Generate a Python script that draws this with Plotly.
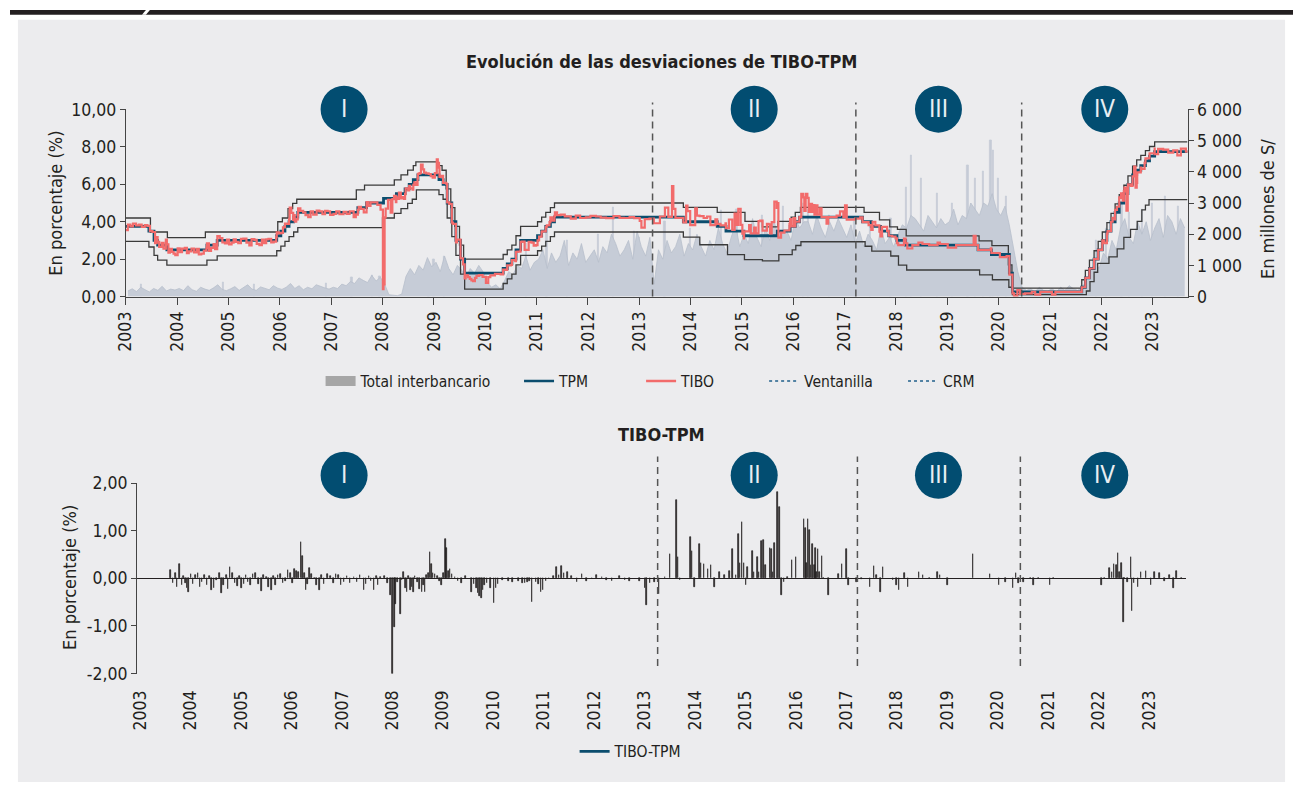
from bisect import bisect_right

import plotly.graph_objects as go

FONT = "Liberation Sans Narrow, Arial Narrow, DejaVu Sans Condensed, sans-serif"
INK = "#231F20"
FW, FH = 1293, 794
AREA = "#C6CCD7"


def px(x):
    return x / FW


def py(y):
    return 1 - y / FH


# ---- data (decimal years) ----
years = list(range(2003, 2024))

# Total interbancario, monthly level, millones de S/ (Jan 2003 .. Aug 2023)
interbank_vol = [
    180, 250, 160, 300, 220, 150, 260, 200, 330, 180, 240, 210,
    260, 190, 350, 220, 170, 300, 240, 200, 280, 380, 230, 190,
    250, 320, 200, 280, 380, 240, 200, 310, 260, 220, 350, 270,
    230, 300, 420, 260, 350, 220, 300, 250, 380, 320, 280, 240,
    300, 260, 400, 350, 480, 420, 600, 520, 450, 680, 500, 620,
    400, 60, 40, 30, 80, 650, 900, 700, 1000, 850, 1250, 950,
    1100, 800, 1300, 900, 700, 1000, 850, 600, 900, 750, 1000, 800,
    450, 300, 380, 250, 500, 800, 700, 1000, 900, 1300, 850, 1100,
    1200, 1500, 900, 1400, 1100, 1300, 1800, 1000, 1400, 1200, 1700, 1100,
    1300, 1500, 1100, 1600, 1400, 2000, 1700, 1300, 1500, 1800, 1200, 2100,
    1600, 1300, 1900, 400, 1500, 1200, 1800, 1400, 1600, 2000, 1300, 1700,
    1500, 2000, 1600, 1300, 1800, 1500, 2200, 1700, 1400, 1900, 2300, 1600,
    2000, 1700, 2500, 1900, 1600, 2200, 1800, 2400, 2000, 2100, 2100, 1800,
    2500, 2200, 2400, 2400, 2000, 2600, 2200, 1900, 2400, 2100, 2500, 2200,
    1900, 2300, 1700, 2100, 1600, 2000, 1800, 1500, 2200, 1700, 1900, 1600,
    2000, 2300, 2200, 2600, 2500, 2300, 2100, 2600, 2400, 2200, 2500, 2300,
    2400, 2800, 2300, 2600, 2500, 3000, 2800, 2600, 3000, 2900, 3300, 2800,
    2600, 2900, 2300, 1500, 800, 300, 200, 250, 150, 300, 200, 180,
    250, 150, 300, 200, 350, 250, 200, 300, 500, 800, 1100, 900,
    1400, 1200, 1800, 1500, 2200, 2500, 1900, 1700, 2400, 2000, 2400, 1800,
    2200, 2500, 1900, 2600, 2400, 2000, 2500, 2200,
]
# Total interbancario, single-day peaks
vol_peak_years = [2003.3, 2004.9, 2005.5, 2006.9, 2007.4, 2007.8, 2007.95, 2008.9, 2009.0, 2009.2,
                  2010.8, 2011.2, 2011.6, 2012.2, 2012.5, 2012.9, 2013.0, 2013.5, 2014.0, 2014.6,
                  2014.9, 2015.4, 2015.8, 2016.2, 2016.3, 2016.7, 2017.2, 2017.5, 2017.9, 2018.2,
                  2018.3, 2018.5, 2018.8, 2019.1, 2019.4, 2019.55, 2019.7, 2019.85, 2019.9, 2020.0,
                  2020.15, 2021.9, 2022.1, 2022.4, 2022.55, 2022.8, 2023.0, 2023.25, 2023.5]
vol_peak_vals = [400, 450, 380, 420, 600, 690, 650, 1100, 1200, 1300,
                 1700, 2250, 1800, 2000, 2870, 2100, 1900, 2400, 2200, 2750,
                 2800, 2600, 2900, 3000, 2800, 2600, 2400, 2300, 2500, 3500,
                 4530, 3800, 3300, 3000, 4200, 3800, 4000, 5000, 4700, 3800,
                 3200, 1800, 2200, 3000, 2700, 2800, 3000, 3200, 2900]

tpm_years = [2003.0, 2003.45, 2003.55, 2003.62, 2003.8, 2004.58, 2004.78, 2005.94, 2006.02, 2006.1,
             2006.18, 2006.27, 2006.35, 2007.52, 2007.69, 2008.02, 2008.27, 2008.44, 2008.52, 2008.6,
             2008.69, 2009.1, 2009.18, 2009.26, 2009.35, 2009.43, 2009.52, 2009.6, 2010.35, 2010.43,
             2010.52, 2010.6, 2010.69, 2011.02, 2011.1, 2011.18, 2011.27, 2011.35, 2013.86, 2014.52,
             2014.69, 2015.04, 2015.69, 2015.94, 2016.04, 2016.12, 2017.35, 2017.52, 2017.7, 2017.86,
             2018.02, 2018.19, 2019.6, 2019.86, 2020.21, 2020.27, 2021.62, 2021.69, 2021.77, 2021.86,
             2021.94, 2022.02, 2022.11, 2022.19, 2022.27, 2022.35, 2022.44, 2022.52, 2022.61, 2022.69,
             2022.77, 2022.86, 2022.94, 2023.04, 2023.68]
tpm_vals = [3.75, 3.5, 3.0, 2.75, 2.5, 2.75, 3.0, 3.25, 3.5, 3.75,
            4.0, 4.25, 4.5, 4.75, 5.0, 5.25, 5.5, 5.75, 6.0, 6.25,
            6.5, 6.25, 6.0, 5.0, 4.0, 3.0, 2.0, 1.25, 1.5, 1.75,
            2.0, 2.5, 3.0, 3.25, 3.5, 3.75, 4.0, 4.25, 4.0, 3.75,
            3.5, 3.25, 3.5, 3.75, 4.0, 4.25, 4.0, 3.75, 3.5, 3.25,
            3.0, 2.75, 2.5, 2.25, 1.25, 0.25, 0.5, 1.0, 1.5, 2.0,
            2.5, 3.0, 3.5, 4.0, 4.5, 5.0, 5.5, 6.0, 6.5, 6.75,
            7.0, 7.25, 7.5, 7.75, 7.75]

ven_years = [2003.0, 2003.48, 2003.81, 2004.55, 2005.96, 2006.05, 2006.16, 2006.25, 2006.33, 2007.49,
             2007.65, 2008.23, 2008.36, 2008.49, 2008.6, 2008.65, 2009.07, 2009.16, 2009.24, 2009.33,
             2009.41, 2009.5, 2009.58, 2010.35, 2010.43, 2010.52, 2010.6, 2010.69, 2011.02, 2011.1,
             2011.18, 2011.27, 2011.35, 2013.86, 2014.52, 2015.06, 2015.4, 2015.7, 2015.96, 2016.04,
             2016.14, 2017.38, 2017.68, 2017.88, 2018.03, 2018.2, 2019.62, 2019.87, 2020.19, 2020.26,
             2021.62, 2021.69, 2021.77, 2021.86, 2021.94, 2022.02, 2022.11, 2022.19, 2022.27, 2022.35,
             2022.44, 2022.52, 2022.61, 2022.69, 2022.77, 2022.86, 2022.94, 2023.04, 2023.68]
ven_vals = [4.2, 3.45, 3.15, 3.45, 4.0, 4.2, 4.7, 4.98, 5.2, 5.7,
            5.96, 6.24, 6.5, 6.76, 7.0, 7.2, 7.0, 6.75, 5.75, 4.75,
            3.75, 2.75, 2.0, 2.25, 2.5, 2.75, 3.25, 3.75, 4.0, 4.25,
            4.5, 4.75, 5.0, 4.77, 4.5, 4.02, 3.73, 4.02, 4.25, 4.5,
            4.77, 4.5, 4.1, 3.73, 3.59, 3.24, 2.98, 2.72, 1.7, 0.45,
            0.9, 1.4, 1.95, 2.45, 2.95, 3.45, 3.95, 4.45, 4.95, 5.45,
            5.95, 6.45, 6.97, 7.3, 7.55, 7.8, 8.02, 8.27, 8.27]

crm_years = [2003.0, 2003.45, 2003.55, 2003.62, 2003.8, 2004.58, 2004.78, 2005.94, 2006.02, 2006.1,
             2006.18, 2006.27, 2006.35, 2008.0, 2008.23, 2008.36, 2008.49, 2008.58, 2008.66, 2009.1,
             2009.18, 2009.26, 2009.35, 2009.43, 2009.52, 2009.6, 2010.35, 2010.43, 2010.52, 2010.6,
             2010.69, 2011.02, 2011.1, 2011.18, 2011.27, 2011.35, 2013.86, 2014.18, 2014.72, 2015.05,
             2015.4, 2015.72, 2015.98, 2016.05, 2016.15, 2017.4, 2017.53, 2017.9, 2018.05, 2018.21,
             2019.63, 2019.88, 2020.2, 2020.27, 2021.71, 2021.78, 2021.86, 2021.93, 2022.15, 2022.31,
             2022.44, 2022.57, 2022.7, 2022.79, 2022.86, 2022.93, 2023.68]
crm_vals = [2.95, 2.65, 2.2, 1.95, 1.68, 1.95, 2.18, 2.45, 2.7, 2.95,
            3.2, 3.45, 3.68, 4.2, 4.45, 4.7, 4.98, 5.2, 5.7, 5.45,
            5.2, 4.2, 3.2, 2.2, 1.2, 0.4, 0.7, 0.95, 1.2, 1.7,
            2.2, 2.45, 2.7, 2.95, 3.2, 3.45, 3.18, 2.77, 2.24, 1.98,
            1.91, 2.24, 2.5, 2.73, 2.93, 2.69, 2.43, 2.17, 1.68, 1.42,
            1.16, 0.9, 0.5, 0.1, 0.3, 0.8, 1.3, 1.77, 2.12, 2.55,
            3.16, 3.59, 4.02, 4.63, 4.89, 5.18, 5.18]

# TIBO before the TIBO-TPM series starts
tibo_early_years = [2003.0, 2003.04, 2003.09, 2003.14, 2003.2, 2003.26, 2003.31, 2003.37, 2003.42, 2003.47,
                    2003.52, 2003.57]
tibo_early_vals = [3.55, 3.85, 3.75, 3.9, 3.8, 3.85, 3.72, 3.82, 3.78, 3.5, 3.45, 2.85]

# TIBO - TPM (percentage points): spikes
spread_years = [
    2003.603, 2003.734, 2003.78, 2003.898, 2003.964, 2004.095, 2004.226, 2004.422, 2004.52, 2004.619,
    2004.783, 2004.881, 2005.012, 2005.143, 2005.242, 2005.406, 2005.504, 2005.602, 2005.734, 2005.832,
    2005.93,
    2006.061, 2006.14, 2006.192, 2006.225, 2006.291, 2006.356, 2006.455, 2006.553, 2006.717, 2006.881,
    2007.045, 2007.241, 2007.438, 2007.536, 2007.635, 2007.766, 2007.962,
    2008.008, 2008.041, 2008.061, 2008.107, 2008.159, 2008.192, 2008.225, 2008.29, 2008.356, 2008.421,
    2008.5, 2008.585, 2008.651, 2008.683, 2008.749, 2008.782, 2008.847, 2008.978,
    2009.057, 2009.077, 2009.142, 2009.24, 2009.372, 2009.568, 2009.667, 2009.732, 2009.765, 2009.83,
    2010.014, 2010.06, 2010.19, 2010.388, 2010.585, 2010.683, 2010.768, 2010.847, 2010.945, 2010.991,
    2011.109, 2011.253, 2011.305, 2011.358, 2011.469, 2011.666, 2011.764, 2011.961,
    2012.158, 2012.354, 2012.616, 2012.813,
    2013.01, 2013.043, 2013.108, 2013.285, 2013.403, 2013.501, 2013.567, 2013.639, 2013.665, 2013.705,
    2013.914, 2013.94, 2013.993,
    2014.091, 2014.124, 2014.176, 2014.255, 2014.321, 2014.386, 2014.484, 2014.583, 2014.681, 2014.747,
    2014.812, 2014.858, 2014.891, 2014.93, 2014.976,
    2015.009, 2015.042, 2015.14, 2015.173, 2015.239, 2015.271, 2015.324, 2015.357, 2015.403, 2015.488,
    2015.52, 2015.547, 2015.58, 2015.632, 2015.678, 2015.711, 2015.763, 2015.829, 2015.927, 2015.96,
    2016.006, 2016.039, 2016.157, 2016.19, 2016.216, 2016.242, 2016.275, 2016.301, 2016.334, 2016.367,
    2016.386, 2016.413, 2016.439, 2016.472, 2016.518, 2016.551, 2016.649, 2016.681, 2016.845, 2016.911,
    2016.976,
    2017.009, 2017.042, 2017.205, 2017.304, 2017.468, 2017.547, 2017.599, 2017.678, 2017.73, 2017.829,
    2017.927, 2017.993,
    2018.045, 2018.157, 2018.222, 2018.32, 2018.438, 2018.517, 2018.648, 2018.812, 2018.858,
    2019.009, 2019.173, 2019.514, 2019.553, 2019.848,
    2020.025, 2020.156, 2020.3, 2020.366, 2020.418, 2020.516, 2020.647, 2020.713, 2020.811,
    2021.04, 2021.106,
    2022.057, 2022.122, 2022.221, 2022.267, 2022.306, 2022.352, 2022.385, 2022.418, 2022.451, 2022.49,
    2022.516, 2022.569, 2022.641, 2022.667, 2022.7, 2022.779, 2022.844, 2022.943,
    2023.041, 2023.107, 2023.205, 2023.304, 2023.402, 2023.481, 2023.55, 2023.648, 2023.731,
]
spread_vals = [
    0.18, -0.19, 0.29, -0.11, -0.28, 0.06, -0.08, -0.25, -0.04, -0.31,
    0.23, -0.11, -0.21, -0.08, 0.08, -0.27, 0.03, -0.25, 0.06, -0.11,
    0.18,
    0.2, 0.13, 0.76, 0.47, -0.25, 0.21, 0.0, -0.25, 0.09, 0.08,
    -0.08, 0.03, -0.25, 0.05, -0.25, 0.03, -0.35,
    -4.6, -1.02, -0.55, -0.08, -0.76, -0.04, 0.13, -0.28, -0.25, -0.28,
    -0.08, -0.28, -0.28, 0.06, 0.55, 0.3, 0.08, -0.14,
    0.83, 0.64, 0.2, 0.03, -0.11, -0.28, -0.21, -0.38, -0.42, -0.14,
    -0.52, -0.21, -0.04, -0.08, -0.11, -0.08, -0.5, -0.08, -0.28, -0.25,
    -0.02, 0.23, 0.06, 0.25, 0.13, -0.08, 0.08, -0.02,
    0.03, -0.06, -0.04, 0.0,
    -0.21, -0.57, -0.11, -0.33, 0.03, 0.5, 0.01, 1.65, 0.44, -0.04,
    0.86, 0.57, -0.18,
    0.71, 0.33, 0.3, 0.2, 0.28, -0.18, 0.13, 0.06, 0.16, 0.62,
    0.06, 0.93, 0.33, 1.19, 0.33,
    -0.14, 0.23, 0.57, 0.13, 0.44, 0.13, 0.78, 0.81, 0.27, 0.64,
    0.61, 0.13, 0.73, 1.82, 1.49, -0.35, -0.08, 0.03, 0.39, 0.0,
    0.45, 0.0, 1.24, 1.05, 0.33, 1.24, 1.02, 0.27, 0.71, 0.27,
    0.64, 0.13, 0.62, 0.13, 0.47, 0.0, -0.35, 0.0, 0.08, 0.3,
    0.0,
    0.62, -0.14, -0.08, -0.02, -0.18, 0.25, 0.06, -0.28, 0.23, 0.0,
    -0.04, -0.14,
    -0.25, 0.1, -0.18, 0.0, 0.14, 0.06, 0.0, 0.13, 0.06,
    -0.14, 0.0, 0.5, 0.0, 0.08,
    -0.14, -0.08, -0.21, 0.1, -0.11, -0.08, 0.01, -0.14, 0.0,
    -0.14, 0.0,
    -0.14, 0.0, 0.21, 0.13, 0.3, 0.27, 0.52, 0.13, 0.33, -0.91,
    0.0, -0.08, 0.45, -0.68, -0.11, -0.18, 0.14, 0.16,
    -0.14, 0.14, 0.1, -0.06, 0.06, -0.21, 0.16, 0.0, 0.0,
]

# TIBO - TPM: small day-to-day noise between the spikes (2003-2013)
noise_years = [
    2003.65, 2003.70, 2003.83, 2003.86, 2003.93, 2004.01, 2004.05, 2004.15, 2004.19, 2004.28,
    2004.33, 2004.38, 2004.47, 2004.57, 2004.66, 2004.71, 2004.74, 2004.83, 2004.93, 2004.97,
    2005.06, 2005.1, 2005.19, 2005.29, 2005.35, 2005.45, 2005.55, 2005.65, 2005.69, 2005.78,
    2005.88, 2005.98, 2006.02, 2006.1, 2006.26, 2006.32, 2006.4, 2006.5, 2006.6, 2006.65,
    2006.77, 2006.83, 2006.93, 2006.98, 2007.1, 2007.16, 2007.3, 2007.36, 2007.48, 2007.58,
    2007.69, 2007.72, 2007.85, 2007.9, 2008.26, 2008.32, 2008.39, 2008.45, 2008.54, 2008.62,
    2008.72, 2008.81, 2008.9, 2008.94, 2009.02, 2009.11, 2009.18, 2009.3, 2009.45, 2009.62,
    2009.7, 2009.8, 2009.88, 2009.95, 2010.1, 2010.3, 2010.5, 2010.63, 2010.72, 2010.9,
    2011.05, 2011.2, 2011.4, 2011.55, 2011.85, 2012.05, 2012.25, 2012.5, 2012.7, 2012.9, 2013.2,
]
noise_vals = [
    -0.1, 0.12, -0.15, 0.05, -0.2, 0.08, -0.12, 0.1, -0.18, 0.07,
    -0.14, 0.05, -0.2, 0.1, -0.15, 0.06, -0.22, 0.12, -0.16, 0.04,
    -0.12, 0.06, -0.15, 0.1, -0.12, 0.07, -0.18, 0.05, -0.14, 0.09,
    -0.06, 0.12, -0.1, 0.15, 0.1, -0.12, 0.08, -0.15, 0.06, -0.12,
    0.05, -0.1, 0.06, -0.14, 0.05, -0.1, -0.08, 0.06, -0.12, -0.06,
    0.05, -0.15, 0.04, -0.1, -0.2, 0.05, -0.18, 0.04, -0.22, -0.15,
    0.1, 0.12, 0.05, -0.06, 0.1, 0.15, 0.08, -0.05, 0.04, -0.12,
    -0.3, -0.25, -0.1, -0.2, -0.12, -0.06, -0.05, -0.1, -0.06, -0.12,
    -0.05, 0.05, 0.1, 0.04, -0.05, 0.06, -0.03, 0.05, -0.05, -0.06, -0.08,
]

period_breaks = [2013.26, 2017.22, 2020.45]
period_labels = ["I", "II", "III", "IV"]


def step_at(xs, ys, t):
    return ys[bisect_right(xs, t) - 1]


diff = dict(zip(noise_years, noise_vals))
diff.update(zip(spread_years, spread_vals))
diff_years = sorted(diff)
diff_vals = [diff[t] for t in diff_years]

# TIBO = TPM + (TIBO - TPM)
tibo_grid = sorted(set(diff_years) | {t for t in tpm_years if t > diff_years[0]})
tibo_x = tibo_early_years + tibo_grid
tibo_y = tibo_early_vals + [round(step_at(tpm_years, tpm_vals, t) + step_at(diff_years, diff_vals, t), 3)
                            for t in tibo_grid]
vol_x = [2003 + (i + 0.5) / 12 for i in range(len(interbank_vol))]

fig = go.Figure()

# top chart
fig.add_trace(go.Bar(x=vol_peak_years, y=vol_peak_vals, xaxis="x", yaxis="y", width=0.025,
                     marker=dict(color=AREA, line=dict(color=AREA, width=0.8)), showlegend=False,
                     hoverinfo="skip"))
fig.add_trace(go.Scatter(x=vol_x, y=interbank_vol, xaxis="x", yaxis="y", mode="lines",
                         line=dict(width=0.8, color="#B7BFCC"), fill="tozeroy", fillcolor=AREA,
                         showlegend=False, hoverinfo="skip"))
for ys, vs in [(ven_years, ven_vals), (crm_years, crm_vals)]:
    fig.add_trace(go.Scatter(x=ys, y=vs, xaxis="x", yaxis="y2", mode="lines", line_shape="hv",
                             line=dict(width=1.3, color="#3A3A3A"), showlegend=False, hoverinfo="skip"))
fig.add_trace(go.Scatter(x=tpm_years, y=tpm_vals, xaxis="x", yaxis="y2", mode="lines", line_shape="hv",
                         line=dict(width=2.8, color="#0B4D6E"), showlegend=False))
fig.add_trace(go.Scatter(x=tibo_x, y=tibo_y, xaxis="x", yaxis="y2", mode="lines", line_shape="hv",
                         line=dict(width=2.2, color="#F26B6B"), showlegend=False))

# bottom chart: daily deviations drawn as thin spikes from zero
fig.add_trace(go.Bar(x=diff_years, y=diff_vals, xaxis="x2", yaxis="y3", width=0.011,
                     marker=dict(color=INK, line=dict(color=INK, width=0.7)), showlegend=False))

# legend entries
legend_items = [
    ("Total interbancario", dict(color="#A6A6A6", width=12), "legend", 322, 381),
    ("TPM", dict(color="#0B4D6E", width=2.6), "legend2", 522, 381),
    ("TIBO", dict(color="#F26B6B", width=2.6), "legend3", 645, 381),
    ("Ventanilla", dict(color="#1F5F8B", width=1.5, dash="dot"), "legend4", 769, 381),
    ("CRM", dict(color="#1F5F8B", width=1.5, dash="dot"), "legend5", 909, 381),
    ("TIBO-TPM", dict(color="#0B4D6E", width=2.6), "legend6", 578, 761),
]
legend_layout = {}
for name, line, lg, icon_px, icon_py in legend_items:
    fig.add_trace(go.Scatter(x=[None], y=[None], xaxis="x", yaxis="y2", mode="lines", line=line,
                             name=name, legend=lg, showlegend=True))
    legend_layout[lg] = dict(x=px(icon_px - 9), y=py(icon_py), xanchor="left", yanchor="middle",
                             orientation="h", bgcolor="rgba(0,0,0,0)", font=dict(size=15.5, color=INK),
                             itemclick=False, itemdoubleclick=False)

axis_common = dict(showgrid=False, zeroline=False, tickfont=dict(size=17.5, color=INK),
                   linecolor="#444", tickcolor="#444")
fig.update_layout(
    width=FW, height=FH, margin=dict(l=0, r=0, t=0, b=0),
    paper_bgcolor="white", plot_bgcolor="rgba(0,0,0,0)",
    font=dict(family=FONT, color=INK), separators=", ", bargap=0,
    xaxis=dict(domain=[px(116.7), px(1186.7)], range=[2003.0, 2023.68], anchor="y",
               tickvals=years, ticktext=[str(y) for y in years], tickangle=-90,
               ticks="outside", ticklen=7, showline=True, **axis_common),
    yaxis=dict(domain=[py(294), py(102)], anchor="x", side="right", range=[0, 6000],
               tickvals=list(range(0, 6001, 1000)), tickformat=",d",
               ticks="outside", ticklen=5, showline=True, **axis_common),
    yaxis2=dict(overlaying="y", anchor="x", side="left", range=[0, 10],
                tickvals=[0, 2, 4, 6, 8, 10], tickformat=".2f",
                ticks="outside", ticklen=5, showline=True, **axis_common),
    xaxis2=dict(domain=[px(128), px(1185)], range=[2002.94, 2023.73], anchor="y3",
                tickvals=years, ticktext=[str(y) for y in years], tickangle=-90,
                ticks="outside", ticklen=9, showline=False, **{**axis_common, "tickcolor": "rgba(0,0,0,0)"}),
    yaxis3=dict(domain=[py(680.7), py(485.3)], anchor="x2", range=[-2, 2],
                tickvals=[-2, -1, 0, 1, 2], ticktext=["-2,00", "-1,00", "0,00", "1,00", "2,00"],
                ticks="outside", ticklen=5, showline=True,
                **{**axis_common, "zeroline": True, "zerolinecolor": INK, "zerolinewidth": 1.3}),
    **legend_layout,
)

shapes = [
    dict(type="rect", xref="paper", yref="paper", x0=px(8), x1=px(1285), y0=py(792), y1=py(10),
         fillcolor="#ECECEE", line_width=0, layer="below"),
    dict(type="rect", xref="paper", yref="paper", x0=0, x1=1, y0=py(5), y1=1,
         fillcolor=INK, line_width=0, layer="below"),
    dict(type="path", xref="paper", yref="paper",
         path=f"M {px(133)},{py(5)} L {px(137)},{1.0} L {px(141)},{1.0} L {px(137)},{py(5)} Z",
         fillcolor="white", line_width=0, layer="below"),
]
for xb in period_breaks:
    shapes.append(dict(type="line", xref="x", yref="paper", x0=xb, x1=xb, y0=py(294), y1=py(95),
                       line=dict(color="#555", width=1.5, dash="7px,5px")))
    shapes.append(dict(type="line", xref="x2", yref="paper", x0=xb, x1=xb, y0=py(673), y1=py(458),
                       line=dict(color="#555", width=1.5, dash="7px,5px")))

annotations = [
    dict(text="<b>Evolución de las desviaciones de TIBO-TPM</b>", x=px(657), y=py(53),
         font=dict(size=18, color=INK)),
    dict(text="<b>TIBO-TPM</b>", x=px(657), y=py(435), font=dict(size=18, color=INK)),
    dict(text="En porcentaje (%)", x=px(45), y=py(198), textangle=-90, font=dict(size=18, color=INK)),
    dict(text="En millones de S/", x=px(1268), y=py(204), textangle=-90, font=dict(size=18, color=INK)),
    dict(text="En porcentaje (%)", x=px(60), y=py(582), textangle=-90, font=dict(size=18, color=INK)),
]
circle_px = [336.7, 750, 935.7, 1103.3]
for cy in [101.7, 477.3]:
    for cx, lab in zip(circle_px, period_labels):
        shapes.append(dict(type="circle", xref="paper", yref="paper", xsizemode="pixel", ysizemode="pixel",
                           xanchor=px(cx), yanchor=py(cy), x0=-23.5, x1=23.5, y0=-23.5, y1=23.5,
                           fillcolor="#024D71", line_width=0))
        annotations.append(dict(text=lab, x=px(cx), y=py(cy), font=dict(size=24, color="#E8EEF2")))

for a in annotations:
    a.update(xref="paper", yref="paper", showarrow=False, xanchor="center", yanchor="middle")
fig.update_layout(shapes=shapes, annotations=annotations)

# the figure fills the whole 1293x794 page, so drop the default body margin
fig.write_html("out.html", config={"displayModeBar": False},
               post_script="document.body.style.margin='0';")
